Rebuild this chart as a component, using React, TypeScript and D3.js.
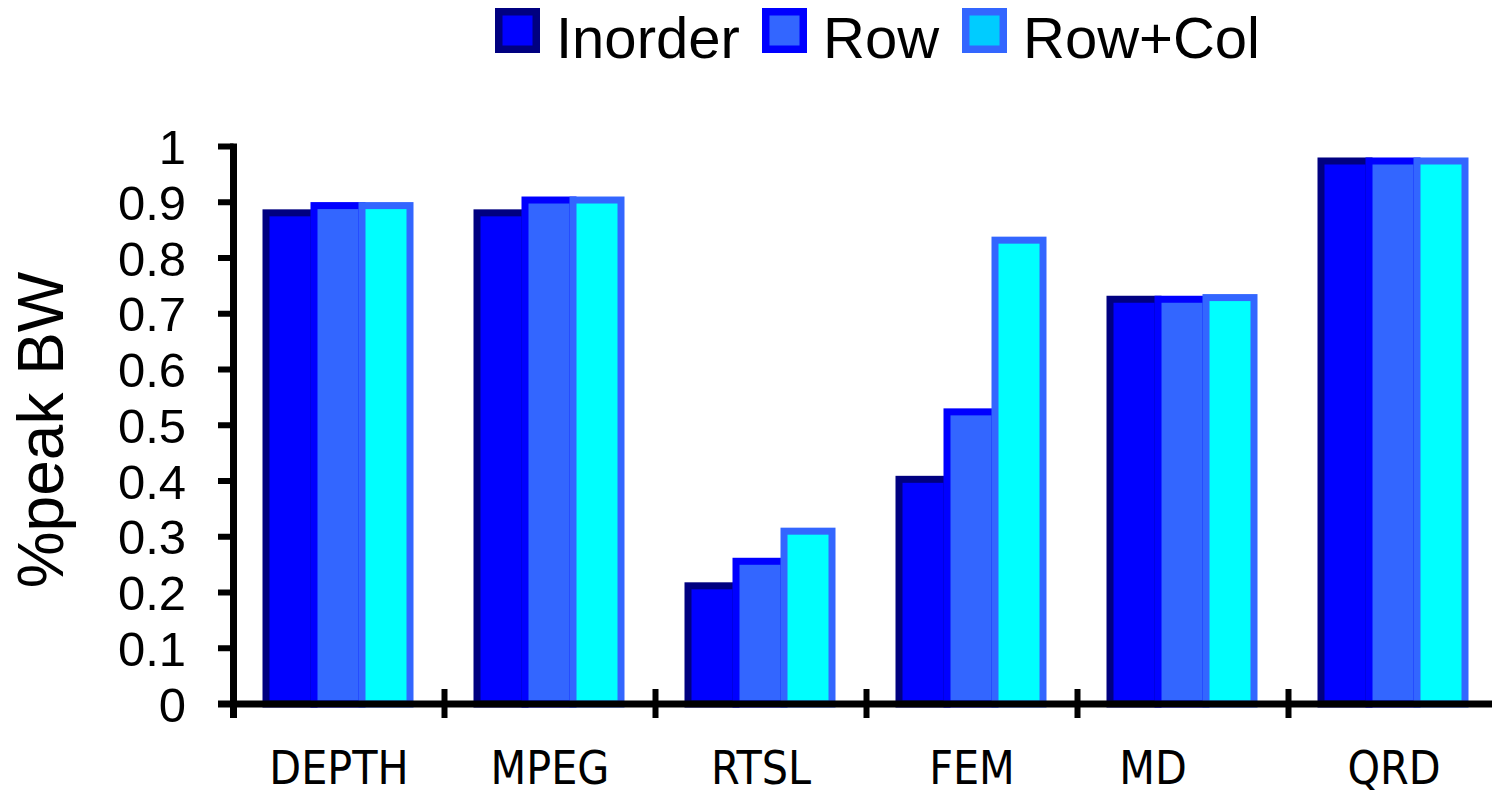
import React from "react";
import * as d3 from "d3";

const categories = ["DEPTH", "MPEG", "RTSL", "FEM", "MD", "QRD"];
const seriesNames = ["Inorder", "Row", "Row+Col"];
const inorder = [0.881, 0.881, 0.212, 0.403, 0.726, 0.974];
const row = [0.894, 0.904, 0.256, 0.524, 0.726, 0.974];
const rowCol = [0.894, 0.904, 0.31, 0.832, 0.729, 0.974];
const yTicks = [0, 0.1, 0.2, 0.3, 0.4, 0.5, 0.6, 0.7, 0.8, 0.9, 1];
const yTickLabels = ["0", "0.1", "0.2", "0.3", "0.4", "0.5", "0.6", "0.7", "0.8", "0.9", "1"];

const fills = ["#0000FF", "#3366FF", "#00FFFF"];
const strokes = ["#000080", "#0000FF", "#3366FF"];
const legendFills = ["#0000FF", "#3366FF", "#00CCFF"];
const labelOffsets: Record<string, number> = { MD: -30 };

const W = 1492;
const H = 796;

export default function App() {
  const series = [inorder, row, rowCol];
  const x = d3.scaleBand<string>().domain(categories).range([233.5, 233.5 + 6 * 211]).padding(0);
  const y = d3.scaleLinear().domain([0, 1]).range([704, 146.5]);
  const barW = 48;
  const groupW = barW * series.length;
  const legendX = [495, 762, 962];

  return (
    <svg width={W} height={H} style={{ position: "absolute", left: 0, top: 0, background: "#fff" }}>
      <rect x={0} y={0} width={W} height={H} fill="#fff" />
      {/* bars */}
      {categories.map((c, ci) => {
        const cx = (x(c) as number) + x.bandwidth() / 2;
        return (
          <g key={c}>
            {series.map((s, si) => (
              <rect
                key={si}
                x={cx - groupW / 2 + si * barW - 1}
                y={y(s[ci])}
                width={barW}
                height={y(0) - y(s[ci])}
                fill={fills[si]}
                stroke={strokes[si]}
                strokeWidth={7}
              />
            ))}
          </g>
        );
      })}
      {/* y axis */}
      <line x1={233.5} x2={233.5} y1={y(1) - 3} y2={718} stroke="#000" strokeWidth={7} />
      {yTicks.map((t, i) => (
        <g key={t}>
          <line x1={218} x2={233.5} y1={y(t)} y2={y(t)} stroke="#000" strokeWidth={6} />
          <text
            x={186}
            y={y(t) + 17.5}
            textAnchor="end"
            fontFamily="'Liberation Sans', Arial, sans-serif"
            fontSize={49}
            fill="#000"
          >
            {yTickLabels[i]}
          </text>
        </g>
      ))}
      {/* x axis */}
      <line x1={218} x2={W} y1={704} y2={704} stroke="#000" strokeWidth={7} />
      {categories.map((c) => (
        <line
          key={c}
          x1={(x(c) as number) + x.bandwidth()}
          x2={(x(c) as number) + x.bandwidth()}
          y1={689}
          y2={718}
          stroke="#000"
          strokeWidth={6}
        />
      ))}
      {categories.map((c) => (
        <text
          key={c}
          x={(x(c) as number) + x.bandwidth() / 2 + (labelOffsets[c] || 0)}
          y={784}
          textAnchor="middle"
          fontFamily="'DejaVu Sans Condensed', 'DejaVu Sans', sans-serif"
          fontStretch="condensed"
          fontSize={46}
          fill="#000"
        >
          {c}
        </text>
      ))}
      {/* y title */}
      <text
        transform={`translate(63, 430) rotate(-90)`}
        textAnchor="middle"
        fontFamily="'Liberation Sans', Arial, sans-serif"
        fontSize={64}
        fill="#000"
      >
        %peak BW
      </text>
      {/* legend */}
      {seriesNames.map((n, i) => (
        <g key={n}>
          <rect
            x={legendX[i] + 3.75}
            y={8 + 3.75}
            width={37.5}
            height={37.5}
            fill={legendFills[i]}
            stroke={strokes[i]}
            strokeWidth={7.5}
          />
          <text
            x={legendX[i] + 61}
            y={58}
            fontFamily="'Liberation Sans', Arial, sans-serif"
            fontSize={58}
            fill="#000"
          >
            {n}
          </text>
        </g>
      ))}
    </svg>
  );
}
